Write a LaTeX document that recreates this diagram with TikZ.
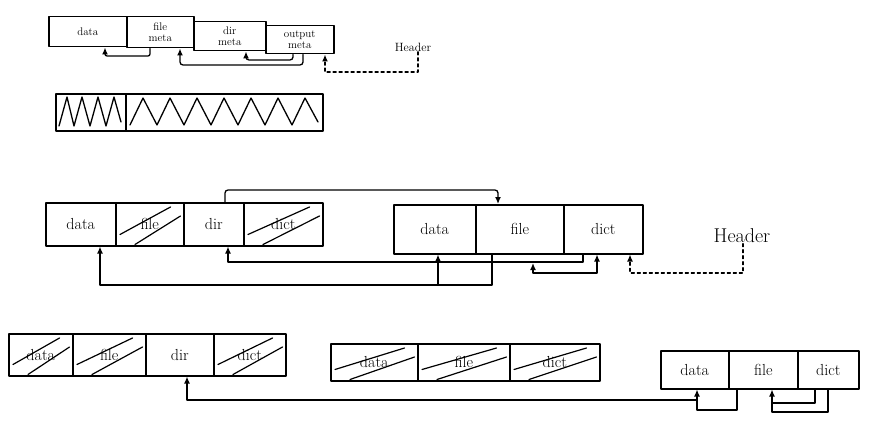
\documentclass[tikz,border=0pt]{standalone}
\usetikzlibrary{arrows.meta}
\newcommand\xhatch[1]{%
  \draw[hatch] ([shift={(5,-12)}]#1.south west) -- ([shift={(-14,5)}]#1.north east);
  \draw[hatch] ([shift={(20,-2)}]#1.south west) -- ([shift={(-4,14)}]#1.north east);}
\begin{document}
\begin{tikzpicture}[x=1pt,y=-1pt, line width=1.3pt, line join=round, line cap=round,
  cell/.style={draw, line width=1.5pt, inner sep=0pt, anchor=north west, font=\fontsize{16}{16}\selectfont},
  small/.style={cell, font=\fontsize{11}{11}\selectfont, align=center},
  arr/.style={-{Latex[length=7pt,width=6pt]}},
  barr/.style={{Latex[length=7pt,width=6pt]}-{Latex[length=7pt,width=6pt]}},
  hatch/.style={line width=1.2pt},
  lbl/.style={inner sep=0pt}]
\fill[white] (0,0) rectangle (886,436);
\useasboundingbox (0,0) rectangle (886,436);

% ---- row 1
\node[small, minimum width=78pt, minimum height=30pt] (rA) at (48,16) {data};
\node[small, minimum width=67pt, minimum height=31pt] (rB) at (126,16) {file\\meta};
\node[small, minimum width=72pt, minimum height=29pt] (rC) at (193,21) {dir\\meta};
\node[small, minimum width=68pt, minimum height=28pt] (rD) at (265,25) {output\\meta};
\node[lbl, font=\fontsize{12}{12}\selectfont] (h1) at (413,47) {Header};

\draw[arr, rounded corners=2pt] (rB.south -| 150,0) -- (150,56) -- (105,56) -- (rA.south -| 105,0);
\draw[arr, rounded corners=3pt] (rD.south -| 303,0) -- (303,65) -- (180,65) -- (rB.south -| 180,0);
\draw[arr, rounded corners=3pt] (rD.south -| 293,0) -- (293,60) -- (246,60) -- (rC.south -| 246,0);
\draw[arr, dashed] (h1.south -| 418,0) -- (418,72) -- (325,72) -- (rD.south -| 325,0);

% ---- row 2
\node[cell, minimum width=70pt, minimum height=37pt] (b1) at (55,93) {};
\node[cell, minimum width=197pt, minimum height=37pt] (b2) at (125,93) {};
\draw (59,126) -- (67,97) -- (74,126) -- (82,97) -- (90,126) -- (98,97) -- (106,126) -- (114,97) -- (121,122);
\draw (130,125) -- (143,98) -- (157,125) -- (170,98) -- (184,125) -- (197,98) -- (211,125) -- (224,98)
  -- (238,125) -- (251,98) -- (265,125) -- (278,98) -- (292,125) -- (305,98) -- (318,122);

% ---- row 3 left
\node[cell, minimum width=70pt, minimum height=43pt] (oA) at (45,202) {data};
\node[cell, minimum width=68pt, minimum height=43pt] (oB) at (115,202) {file};
\node[cell, minimum width=60pt, minimum height=43pt] (oC) at (183,202) {dir};
\node[cell, minimum width=79pt, minimum height=43pt] (oD) at (243,202) {dict};
\xhatch{oB}
\xhatch{oD}

% ---- row 3 right
\node[cell, minimum width=82pt, minimum height=49pt] (nA) at (393,204) {data};
\node[cell, minimum width=88pt, minimum height=49pt] (nB) at (475,204) {file};
\node[cell, minimum width=79pt, minimum height=49pt] (nC) at (563,204) {dict};
\node[lbl, font=\fontsize{20}{20}\selectfont] (h2) at (742,236) {Header};

\coordinate (j1) at (438,285);
\draw[arr, rounded corners=3pt] (oC.north -| 225,0) -- (225,190) -- (498,190) -- (nB.north -| 498,0);
\draw[arr] (nB.south -| 492,0) -- (492,285) -- (100,285) -- (oA.south -| 100,0);
\draw[arr] (j1) -- (nA.south -| 438,0);
\draw[arr] (nC.south -| 583,0) -- (583,262) -- (228,262) -- (oC.south -| 228,0);
\draw[barr] (nC.south -| 597,0) -- (597,273) -- (533,273) -- (533,263);
\draw[arr, dashed] (h2.south -| 743,0) -- (743,273) -- (630,273) -- (nC.south -| 630,0);

% ---- row 4 left
\node[cell, minimum width=64pt, minimum height=42pt] (pA) at (8,333) {data};
\node[cell, minimum width=73pt, minimum height=42pt] (pB) at (72,333) {file};
\node[cell, minimum width=68pt, minimum height=42pt] (pC) at (145,333) {dir};
\node[cell, minimum width=72pt, minimum height=42pt] (pD) at (213,333) {dict};
\xhatch{pA}
\xhatch{pB}
\xhatch{pD}

% ---- row 4 middle
\node[cell, minimum width=87pt, minimum height=37pt] (qA) at (330,343) {data};
\node[cell, minimum width=92pt, minimum height=37pt] (qB) at (417,343) {file};
\node[cell, minimum width=90pt, minimum height=37pt] (qC) at (509,343) {dict};
\xhatch{qA}
\xhatch{qB}
\xhatch{qC}

% ---- row 4 right
\node[cell, minimum width=68pt, minimum height=38pt] (sA) at (660,350) {data};
\node[cell, minimum width=69pt, minimum height=38pt] (sB) at (728,350) {file};
\node[cell, minimum width=61pt, minimum height=38pt] (sC) at (797,350) {dict};

\coordinate (j2) at (697,400);
\coordinate (j3) at (772,403);
\draw[arr] (sB.south -| 737,0) -- (737,410) -- (697,410) -- (sA.south -| 697,0);
\draw[arr] (j2) -- (187,400) -- (pC.south -| 187,0);
\draw[arr] (sC.south -| 828,0) -- (828,412) -- (772,412) -- (sB.south -| 772,0);
\draw (sC.south -| 815,0) -- (815,403) -- (j3);
\end{tikzpicture}
\end{document}
